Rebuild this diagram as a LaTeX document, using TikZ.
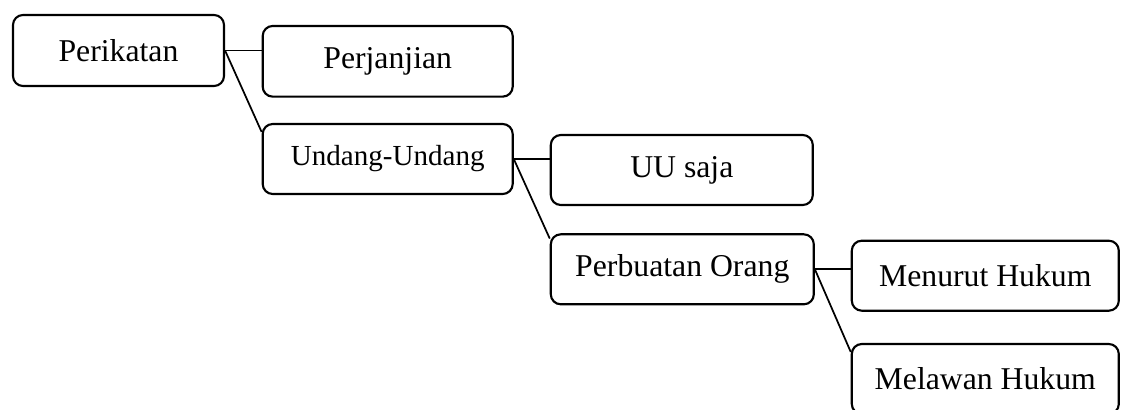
\documentclass[tikz,border=0pt]{standalone}
\usepackage{fontspec}
\setmainfont{Liberation Serif}
\begin{document}
\begin{tikzpicture}[x=0.75pt,y=-0.75pt,
  box/.style={draw=black,line width=1.6pt,rounded corners=7.5pt,inner sep=0pt,
    align=center,font=\fontsize{23.8}{28}\selectfont},
  link/.style={draw=black,line width=1.3pt}]
\useasboundingbox (0,0) rectangle (1121,410);
\clip (0,0) rectangle (1121,410);
\node[box,minimum width=158.25pt,minimum height=53.25pt] (per) at (118.5,50.5) {Perikatan};
\node[box,minimum width=187.5pt,minimum height=53pt] (janji) at (387.7,61.3) {Perjanjian};
\node[box,minimum width=187.5pt,minimum height=52.5pt,font=\fontsize{21.8}{26}\selectfont] (uu) at (387.7,159) {Undang-Undang};
\node[box,minimum width=196.5pt,minimum height=52.5pt] (saja) at (681.8,170) {UU saja};
\node[box,minimum width=197.25pt,minimum height=52.5pt] (orang) at (682.3,269.3) {Perbuatan Orang};
\node[box,minimum width=200.25pt,minimum height=52.5pt] (menurut) at (985.3,275.7) {Menurut Hukum};
\node[box,minimum width=200.25pt,minimum height=52.5pt] (melawan) at (985.3,379) {Melawan Hukum};
\draw[link] (per.east) -- (per.east -| janji.west);
\draw[link] (per.east) -- ([yshift=-6.75pt]uu.north west);
\draw[link] (uu.east) -- (uu.east -| saja.west);
\draw[link] (uu.east) -- ([yshift=-4pt]orang.north west);
\draw[link] (orang.east) -- (orang.east -| menurut.west);
\draw[link] (orang.east) -- ([yshift=-6.75pt]melawan.north west);
\end{tikzpicture}
\end{document}
